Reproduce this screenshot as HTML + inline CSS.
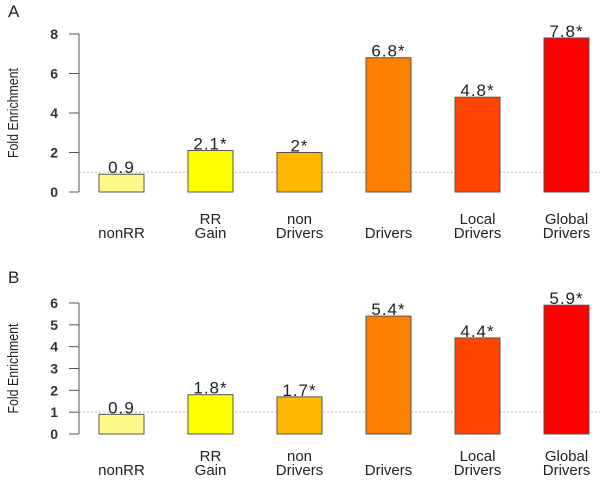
<!DOCTYPE html>
<html><head><meta charset="utf-8"><style>
body{margin:0;background:#fff;width:600px;height:482px;overflow:hidden}
svg{font-family:"Liberation Sans",Arial,sans-serif}
</style></head><body>
<svg id="chart" width="600" height="482"></svg>
<script>
const categories = [["nonRR"],["RR","Gain"],["non","Drivers"],["Drivers"],["Local","Drivers"],["Global","Drivers"]];
const seriesA = [0.9, 2.1, 2.0, 6.8, 4.8, 7.8];
const labelsA = ["0.9","2.1*","2*","6.8*","4.8*","7.8*"];
const seriesB = [0.9, 1.8, 1.7, 5.4, 4.4, 5.9];
const labelsB = ["0.9","1.8*","1.7*","5.4*","4.4*","5.9*"];
const ticksA = [0,2,4,6,8];
const ticksB = [0,1,2,3,4,5,6];
const colors = ["#FFF98A","#FFFF00","#FFB800","#FF8000","#FF4500","#FF0000"];
const NS="http://www.w3.org/2000/svg";
const svg=document.getElementById('chart');
function mk(tag,attrs,parent){const e=document.createElementNS(NS,tag);for(const k in attrs)e.setAttribute(k,attrs[k]);(parent||svg).appendChild(e);return e;}
function panel(letter,letterY,y0,yTop,maxT,ticks,vals,labs,catY1,catY2,key){
  const g=mk('g',{});
  
  
  const yS=v=>y0-(y0-yTop)*v/maxT;
  const xS=i=>99+i*89;
  const L=mk('text',{x:8,y:letterY,'font-size':17,fill:'#222'},g);L.textContent=letter;
  
  
  const ax=mk('line',{x1:79,x2:79,y1:yS(ticks[0]),y2:yS(ticks[ticks.length-1]),stroke:'#555'},g);
  
  
  ticks.forEach(t=>{
    mk('line',{x1:69,x2:79,y1:yS(t),y2:yS(t),stroke:'#555'},g);
    const tx=mk('text',{x:58,y:yS(t)+5,'font-size':14,'font-weight':'bold','text-anchor':'end',fill:'#333'},g);tx.textContent=t;
    
    
  });
  const yt=mk('text',{transform:`translate(18,${(y0+yTop)/2}) rotate(-90)`,'font-size':15,'text-anchor':'middle',fill:'#222',textLength:90,lengthAdjust:'spacingAndGlyphs'},g);
  yt.textContent='Fold Enrichment';
  
  
  const ref=mk('line',{x1:79,x2:600,y1:yS(1),y2:yS(1),stroke:'#bbb','stroke-dasharray':'2,2'},g);
  
  
  vals.forEach((v,i)=>{
    const r=mk('rect',{x:xS(i),y:yS(v),width:45,height:y0-yS(v),fill:colors[i],stroke:'#555','stroke-width':1},g);
    
    
    const t=mk('text',{x:xS(i)+22.5,y:yS(v)-1,'font-size':17,'text-anchor':'middle',fill:'#222','letter-spacing':'1'},g);t.textContent=labs[i];
    
    
    const c=categories[i];
    const lines=c.length===2?[[c[0],catY1],[c[1],catY2]]:[[c[0],catY2]];
    lines.forEach(([s,yy])=>{
      const ct=mk('text',{x:xS(i)+22.5,y:yy,'font-size':15,'text-anchor':'middle',fill:'#222'},g);ct.textContent=s;
      
      
    });
  });
}
panel('A',17,192,34,8,ticksA,seriesA,labelsA,224,238,'a');
panel('B',283,434,303,6,ticksB,seriesB,labelsB,461,475,'b');
</script>
</body></html>
